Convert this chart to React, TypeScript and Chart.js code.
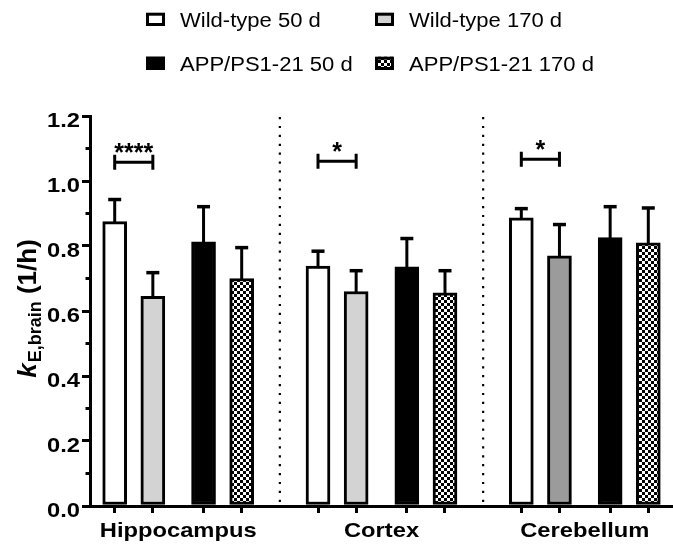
import React, { useEffect, useRef } from 'react';
import { Chart, registerables } from 'chart.js';

Chart.register(...registerables);

// ---------- data ----------
const regions = ['Hippocampus', 'Cortex', 'Cerebellum'];
const seriesNames = ['Wild-type 50 d', 'Wild-type 170 d', 'APP/PS1-21 50 d', 'APP/PS1-21 170 d'];
const wt50 = [0.875, 0.738, 0.887];
const wt50Err = [0.068, 0.046, 0.028];
const wt170 = [0.645, 0.660, 0.770];
const wt170Err = [0.073, 0.064, 0.096];
const app50 = [0.813, 0.736, 0.826];
const app50Err = [0.108, 0.087, 0.095];
const app170 = [0.700, 0.656, 0.810];
const app170Err = [0.095, 0.068, 0.107];
const sigLabels = ['****', '*', '*'];
const sigHeights = [1.058, 1.061, 1.067];
const yTickValues = [0, 0.2, 0.4, 0.6, 0.8, 1.0, 1.2];
const yMinorValues = [0.1, 0.3, 0.5, 0.7, 0.9, 1.1];

const seriesValues = [wt50, wt170, app50, app170];
const seriesErrors = [wt50Err, wt170Err, app50Err, app170Err];

// ---------- layout constants ----------
const OFF = [-0.3123, -0.1247, 0.1247, 0.3123];
const X_MIN = -0.4338;
const X_MAX = 2.4338;
const FONT = '"Liberation Sans", Arial, Helvetica, sans-serif';
const STRETCH = 1.13;

const xTickValues: number[] = [];
regions.forEach((_, g) => {
  xTickValues.push(g + OFF[0], g + OFF[1], g + OFF[2], g + OFF[3]);
});

function stretchedText(
  ctx: CanvasRenderingContext2D,
  text: string,
  x: number,
  y: number,
  align: CanvasTextAlign,
  font: string,
) {
  ctx.save();
  ctx.translate(x, y);
  ctx.scale(STRETCH, 1);
  ctx.font = font;
  ctx.textAlign = align;
  ctx.textBaseline = 'alphabetic';
  ctx.fillText(text, 0, 0);
  ctx.restore();
}

export default function App() {
  const ref = useRef<HTMLCanvasElement>(null);

  useEffect(() => {
    const canvas = ref.current!;
    const pc = document.createElement('canvas');
    pc.width = 6;
    pc.height = 6;
    const p = pc.getContext('2d')!;
    p.fillStyle = '#ffffff';
    p.fillRect(0, 0, 6, 6);
    p.fillStyle = '#000000';
    p.fillRect(0, 0, 3, 3);
    p.fillRect(3, 3, 3, 3);
    const checker = canvas.getContext('2d')!.createPattern(pc, 'repeat')!;

    const barFills: any[][] = [
      ['#ffffff', '#ffffff', '#ffffff'],
      ['#d3d3d3', '#d3d3d3', '#9b9b9b'],
      ['#000000', '#000000', '#000000'],
      [checker, checker, checker],
    ];
    const legendFills: any[] = ['#ffffff', '#d3d3d3', '#000000', checker];

    const datasets = seriesNames.map((name, s) => ({
      label: name,
      data: seriesValues[s].map((v, g) => ({ x: g + OFF[s], y: v })),
      backgroundColor: barFills[s],
      borderColor: '#000000',
      borderWidth: 3,
      borderSkipped: false as const,
      barThickness: 24,
      grouped: false,
    }));

    const overlay = {
      id: 'overlay',
      afterDatasetsDraw(chart: any) {
        const ctx: CanvasRenderingContext2D = chart.ctx;
        const xs = chart.scales.x;
        const ys = chart.scales.y;
        const area = chart.chartArea;
        ctx.save();
        ctx.strokeStyle = '#000';
        ctx.fillStyle = '#000';

        // minor y ticks
        ctx.lineWidth = 3;
        yMinorValues.forEach((v) => {
          const y = ys.getPixelForValue(v);
          ctx.beginPath();
          ctx.moveTo(area.left - 4.5, y);
          ctx.lineTo(area.left, y);
          ctx.stroke();
        });

        // y tick labels (from the scale's ticks)
        ys.ticks.forEach((t: any) => {
          const y = ys.getPixelForValue(t.value);
          stretchedText(ctx, Number(t.value).toFixed(1), area.left - 10, y + 11, 'right', `bold 21px ${FONT}`);
        });

        // x category labels at group centres
        regions.forEach((name, g) => {
          const x = xs.getPixelForValue(g);
          stretchedText(ctx, name, x, area.bottom + 31, 'center', `bold 21px ${FONT}`);
        });

        // error bars
        seriesValues.forEach((vals, s) => {
          const meta = chart.getDatasetMeta(s);
          vals.forEach((v, g) => {
            const el = meta.data[g];
            const x = el.x;
            const yTop = ys.getPixelForValue(v);
            const yErr = ys.getPixelForValue(v + seriesErrors[s][g]);
            ctx.lineWidth = 3;
            ctx.beginPath();
            ctx.moveTo(x, yTop + 2);
            ctx.lineTo(x, yErr);
            ctx.stroke();
            ctx.lineWidth = 3.5;
            ctx.beginPath();
            ctx.moveTo(x - 6.5, yErr);
            ctx.lineTo(x + 6.5, yErr);
            ctx.stroke();
          });
        });

        // dotted separators
        ctx.save();
        ctx.lineWidth = 2.2;
        ctx.setLineDash([2.2, 6.7]);
        [0.5, 1.5].forEach((u) => {
          const x = xs.getPixelForValue(u);
          ctx.beginPath();
          ctx.moveTo(x, area.top + 1);
          ctx.lineTo(x, area.bottom - 4);
          ctx.stroke();
        });
        ctx.restore();

        // significance brackets
        sigLabels.forEach((lab, g) => {
          const x1 = xs.getPixelForValue(g + OFF[0]);
          const x2 = xs.getPixelForValue(g + OFF[1]);
          const y = ys.getPixelForValue(sigHeights[g]);
          ctx.lineWidth = 3;
          ctx.beginPath();
          ctx.moveTo(x1, y);
          ctx.lineTo(x2, y);
          ctx.moveTo(x1, y - 7.5);
          ctx.lineTo(x1, y + 7.5);
          ctx.moveTo(x2, y - 7.5);
          ctx.lineTo(x2, y + 7.5);
          ctx.stroke();
          ctx.font = `bold 25px ${FONT}`;
          ctx.textAlign = 'center';
          ctx.textBaseline = 'alphabetic';
          ctx.fillText(lab, (x1 + x2) / 2, y - 1);
        });

        // y axis title: k_{E,brain} (1/h)
        const mainFont = `bold 26px ${FONT}`;
        const kFont = `italic bold 26px ${FONT}`;
        const subFont = `bold 18px ${FONT}`;
        ctx.font = kFont;
        const wK = ctx.measureText('k').width;
        ctx.font = subFont;
        const wSub = ctx.measureText('E,brain').width;
        ctx.font = mainFont;
        const wRest = ctx.measureText(' (1/h)').width;
        const total = wK + wSub + wRest;
        const cy = 309;
        ctx.save();
        ctx.translate(36, cy + total / 2);
        ctx.rotate(-Math.PI / 2);
        ctx.textAlign = 'left';
        ctx.textBaseline = 'alphabetic';
        ctx.font = kFont;
        ctx.fillText('k', 0, 0);
        ctx.font = subFont;
        ctx.fillText('E,brain', wK + 1, 5);
        ctx.font = mainFont;
        ctx.fillText(' (1/h)', wK + wSub + 1, 0);
        ctx.restore();

        // legend
        const colX = [146, 375];
        const rowTop = [12.7, 56.7];
        seriesNames.forEach((name, i) => {
          const col = i % 2;
          const row = Math.floor(i / 2);
          const bx = colX[col];
          const by = rowTop[row];
          ctx.fillStyle = legendFills[i];
          ctx.fillRect(bx, by, 19, 13.3);
          ctx.lineWidth = 3;
          ctx.strokeStyle = '#000';
          ctx.strokeRect(bx + 1.5, by + 1.5, 16, 10.3);
          ctx.fillStyle = '#000';
          stretchedText(ctx, name, bx + 34, by + 14, 'left', `19.5px ${FONT}`);
        });

        ctx.restore();
      },
    };

    const chart = new Chart(canvas, {
      type: 'bar',
      data: { datasets: datasets as any },
      options: {
        animation: false,
        responsive: false,
        events: [],
        layout: { padding: { top: 116, right: 0, bottom: 0, left: 0 } },
        plugins: {
          legend: { display: false },
          tooltip: { enabled: false },
        },
        scales: {
          x: {
            type: 'linear',
            min: X_MIN,
            max: X_MAX,
            offset: false,
            afterBuildTicks: (scale: any) => {
              scale.ticks = xTickValues.map((v) => ({ value: v }));
            },
            afterFit: (scale: any) => {
              scale.height = 42;
            },
            ticks: { display: false, autoSkip: false },
            grid: {
              offset: false,
              drawOnChartArea: false,
              drawTicks: true,
              tickLength: 7,
              lineWidth: 3,
              tickWidth: 3,
              color: '#000',
              tickColor: '#000',
            },
            border: { display: true, color: '#000', width: 3 },
          },
          y: {
            type: 'linear',
            min: 0,
            max: 1.2,
            afterBuildTicks: (scale: any) => {
              scale.ticks = yTickValues.map((v) => ({ value: v }));
            },
            afterFit: (scale: any) => {
              scale.width = 90;
            },
            ticks: { display: false },
            grid: {
              drawOnChartArea: false,
              drawTicks: true,
              tickLength: 8,
              lineWidth: 3,
              tickWidth: 3,
              color: '#000',
            },
            border: { display: true, color: '#000', width: 3 },
          },
        },
      },
      plugins: [overlay],
    });

    return () => chart.destroy();
  }, []);

  return (
    <div style={{ position: 'absolute', left: 0, top: 0, width: 673, height: 548, background: '#fff' }}>
      <canvas ref={ref} width={673} height={548} style={{ display: 'block' }} />
    </div>
  );
}
